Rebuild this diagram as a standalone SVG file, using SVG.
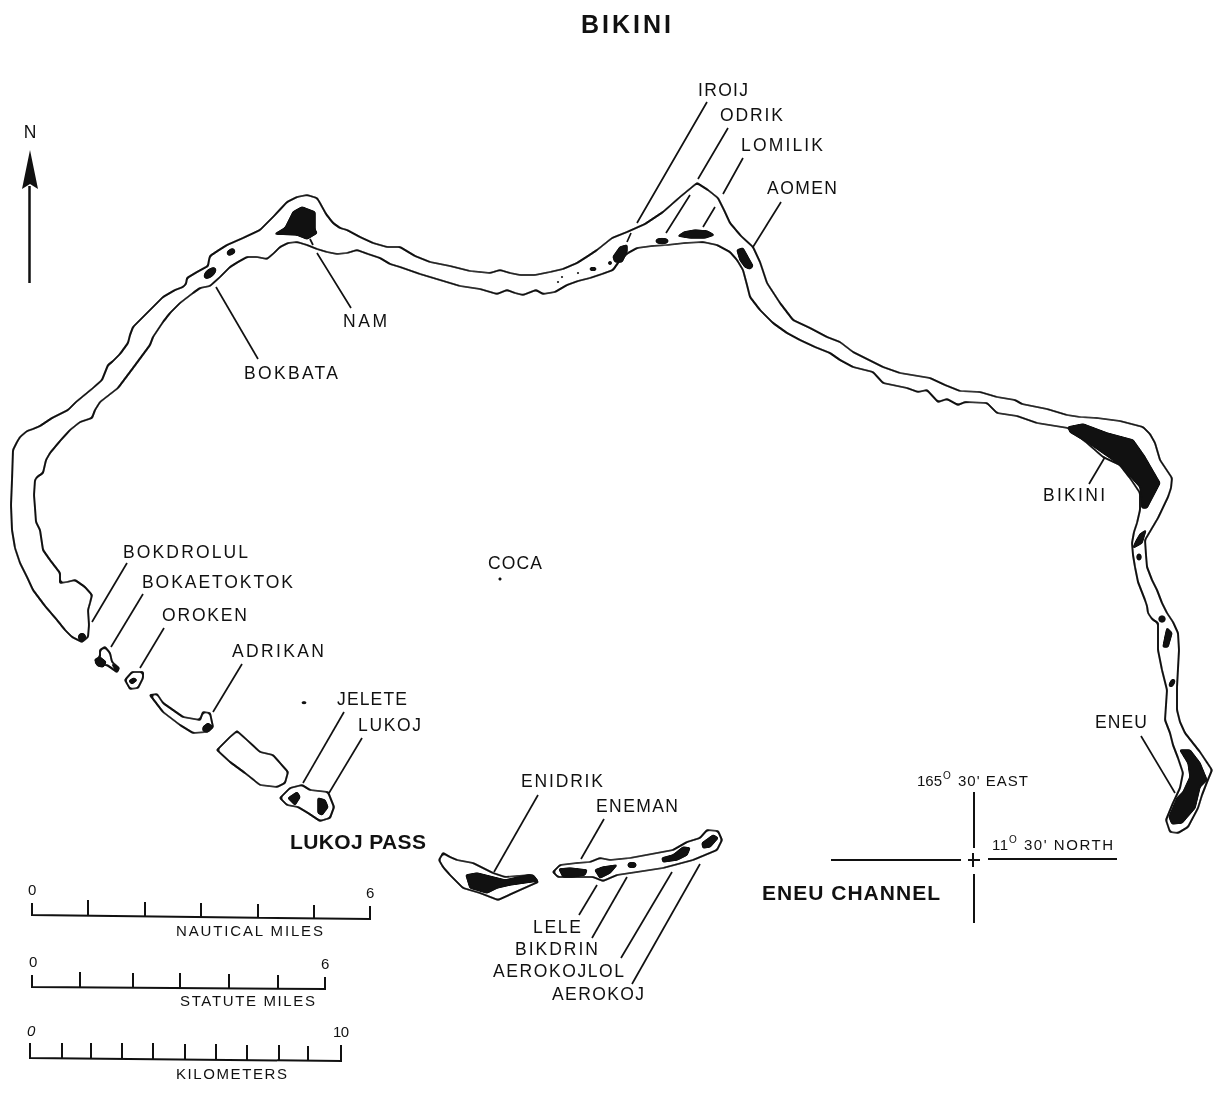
<svg xmlns="http://www.w3.org/2000/svg" width="1213" height="1094" viewBox="0 0 1213 1094">
<style>
text{font-family:"Liberation Sans",Arial,sans-serif;fill:#111}
.l{font-size:17.5px}
.s{font-size:15px}
.u{font-size:10px}
.b{font-size:21px;font-weight:bold}
.o{fill:none;stroke:#111;stroke-width:2.2;stroke-linejoin:round;stroke-linecap:round}
.k{fill:#111;stroke:#111;stroke-width:1.5;stroke-linejoin:round}
.t{fill:none;stroke:#111;stroke-width:1.7}
.a{fill:none;stroke:#111;stroke-width:2}
</style>
<defs>
<filter id="ink" x="-5%" y="-5%" width="110%" height="110%" color-interpolation-filters="sRGB">
<feGaussianBlur stdDeviation="1"/>
<feComponentTransfer><feFuncA type="linear" slope="4" intercept="-1.5"/></feComponentTransfer>
</filter>
</defs>
<rect width="1213" height="1094" fill="#fff"/>
<g id="reef" filter="url(#ink)">
<path class="o" d="M82 642L72 637L65 630L57 620L45 606L33 590L27 577L20 563L15 548L12 530L11 505L12 480L13 450L17 442L20 437L27 431L33 429L40 426L52 418L68 410L76 402L93 388L102 380L108 365L112 362L120 354L128 343L130 335L133 327L146 314L155 305L163 297L175 290L183 287L186 284L187 278L197 272L208 266L209 260L210 256L219 250L227 245L243 238L260 230L274 216L287 202L297 197L307 195L317 198L320 203L326 214L333 223L340 228L347 230L360 237L373 243L387 247L400 247L415 256L430 262L450 266L470 271L480 272L490 273L500 270L510 273L520 275L535 275L550 272L563 269L577 263L588 256L597 250L612 238L627 232L645 224L663 212L680 197L697 183L708 190L718 198L724 210L730 223L741 236L753 247L760 262L767 283L780 303L793 320L810 328L827 337L840 342L853 352L873 362L883 367L900 373L930 378L945 385L960 391L980 392L997 397L1015 400L1022 404L1047 409L1067 415L1080 417L1097 418L1120 421L1143 427L1150 434L1155 443L1160 460L1172 478L1171 488L1168 497L1158 518L1145 540L1146 555L1147 567L1152 580L1157 590L1162 603L1167 613L1173 622L1178 633L1179 650L1177 687L1177 710L1180 722L1185 733L1200 752L1212 770L1207 782L1202 795L1198 808L1188 827L1178 833L1170 832L1166 820L1173 803L1180 788L1183 773L1178 758L1173 745L1170 733L1165 720L1166 705L1167 690L1162 670L1158 650L1158 635L1158 623L1152 619L1148 613L1147 606L1145 600L1138 582L1135 567L1133 555L1132 543L1134 532L1137 523L1140 510L1140 493L1130 478L1120 465L1103 457L1087 443L1068 428L1037 423L1017 416L997 413L987 403L965 402L958 405L947 399L938 402L927 390L918 392L907 388L883 383L873 372L853 367L840 360L830 353L815 347L800 340L787 333L773 323L760 310L750 297L747 285L743 270L737 260L730 252L717 245L703 242L685 243L667 245L652 246L637 248L628 253L620 260L613 270L602 274L590 278L578 281L567 285L555 292L543 294L536 290L523 295L515 293L507 290L497 294L480 289L460 286L440 280L420 274L400 267L390 264L380 258L368 254L357 250L347 253L337 254L327 252L317 249L307 245L297 242L288 243L280 247L274 253L267 259L257 257L247 257L238 262L230 267L220 277L210 286L200 288L193 293L180 303L170 313L163 322L153 337L150 345L133 368L118 388L100 402L95 410L92 418L80 422L70 430L60 441L50 453L46 460L43 473L37 477L35 480L34 495L35 508L36 522L40 530L43 550L50 560L60 573L60 583L67 582L75 580L85 587L92 595L90 603L88 610L89 625L88 637Z"/>
</g>
<g id="islands" filter="url(#ink)">
<path class="o" d="M100 650L105 647L110 653L112 662L119 668L117 672L107 665L98 665L95 660L100 657Z"/>
<path class="o" d="M125 680L132 672L143 672L143 678L138 688L130 689Z"/>
<path class="o" d="M150 695L157 694L163 703L183 717L200 720L203 712L210 713L213 727L207 732L193 733L180 725L163 712Z"/>
<path class="o" d="M217 750L230 737L237 731L247 740L260 752L273 755L288 772L285 783L277 787L260 785L245 773L230 762Z"/>
<path class="o" d="M280 798L290 788L302 785L310 790L328 792L334 807L330 818L320 821L308 813L298 807L287 805Z"/>
<path class="o" d="M439 860L443 853L450 857L457 860L473 863L493 873L505 877L530 875L538 882L520 890L498 900L480 893L463 888L450 875L443 867Z"/>
<path class="o" d="M553 872L560 865L577 863L590 862L600 858L610 860L630 858L657 853L673 850L687 842L700 838L707 830L718 831L722 840L717 850L693 860L663 868L637 872L617 875L603 881L593 877L573 877L558 877Z"/>
</g>
<g id="land" filter="url(#ink)">
<path class="k" d="M275 234L285 228L293 212L302 207L315 212L315 230L317 233L307 239L297 235Z"/>
<ellipse class="k" cx="231" cy="252" rx="4" ry="2.500" transform="rotate(-30 231 252)"/>
<ellipse class="k" cx="210" cy="273" rx="7" ry="3.500" transform="rotate(-40 210 273)"/>
<path class="k" d="M613 257L620 247L627 245L627 252L622 262L615 262Z"/>
<ellipse class="k" cx="662" cy="241" rx="6" ry="2.500"/>
<path class="k" d="M678 236L684 232L695 230L707 231L714 235L705 238L690 238Z"/>
<path class="k" d="M737 250L743 248L753 266L750 269L745 267L740 260Z"/>
<ellipse class="k" cx="593" cy="269" rx="3" ry="1.500"/>
<circle class="k" cx="610" cy="263" r="1.500"/>
<circle class="k" cx="578" cy="273" r="1"/>
<circle class="k" cx="562" cy="277" r="1"/>
<circle class="k" cx="558" cy="282" r="1"/>
<path class="k" d="M1068 427L1083 424L1107 433L1133 440L1145 457L1160 483L1147 508L1142 508L1140 487L1120 465L1087 442L1070 432Z"/>
<path class="k" d="M1146 530L1142 543L1133 548L1136 541L1140 534Z"/>
<ellipse class="k" cx="1139" cy="557" rx="2" ry="3"/>
<circle class="k" cx="1162" cy="619" r="3"/>
<path class="k" d="M1167 628L1172 633L1168 647L1163 647L1165 637Z"/>
<ellipse class="k" cx="1172" cy="683" rx="2" ry="4" transform="rotate(30 1172 683)"/>
<path class="k" d="M1180 750L1190 750L1200 763L1207 780L1200 787L1195 808L1182 823L1172 824L1169 817L1177 798L1183 792L1190 777L1188 763Z"/>
<circle class="k" cx="82" cy="637" r="3.500"/>
<path class="k" d="M95 662L100 657L106 662L103 667L98 666Z"/>
<path class="k" d="M112 664L119 668L117 672Z"/>
<path class="k" d="M129 681L134 678L137 680L132 684Z"/>
<path class="k" d="M203 727L208 723L213 727L208 732L203 731Z"/>
<path class="k" d="M288 798L297 792L300 797L295 805Z"/>
<path class="k" d="M318 798L325 800L328 807L322 815L318 813Z"/>
<path class="k" d="M466 875L477 873L493 877L505 880L528 875L533 875L538 881L510 885L497 888L487 893L470 888Z"/>
<path class="k" d="M559 869L570 868L587 870L585 875L573 877L563 877Z"/>
<path class="k" d="M595 870L603 867L617 865L610 873L600 878Z"/>
<ellipse class="k" cx="632" cy="865" rx="4" ry="2.500"/>
<path class="k" d="M662 858L673 855L683 847L690 848L687 855L677 860L663 862Z"/>
<path class="k" d="M702 843L713 835L718 838L710 847L703 848Z"/>
<rect class="k" x="302" y="702" width="4" height="1.500"/>
<circle class="k" cx="500" cy="579" r="1.200"/>
</g>
<g id="connectors" class="t">
<path d="M707 102L637 223M631 233L627 242"/>
<path d="M728 128L698 179M690 195L666 233"/>
<path d="M743 158L723 194M715 207L703 227"/>
<path d="M781 202L753 247"/>
<path d="M351 308L317 253M313 245L310 239"/>
<path d="M258 359L216 287"/>
<path d="M127 563L92 622"/>
<path d="M143 594L111 647"/>
<path d="M164 628L140 668"/>
<path d="M242 664L213 712"/>
<path d="M344 712L303 783"/>
<path d="M362 738L329 793"/>
<path d="M538 795L494 872"/>
<path d="M604 819L581 859"/>
<path d="M597 885L579 915"/>
<path d="M627 877L592 938"/>
<path d="M672 872L621 958"/>
<path d="M700 864L632 984"/>
<path d="M1105 457L1089 484"/>
<path d="M1141 736L1175 793"/>
</g>
<g id="north-arrow">
<path d="M29.500 186V283" fill="none" stroke="#111" stroke-width="2.500"/>
<path d="M30 150L38 189L30 184L22 189Z" fill="#111"/>
<text class="l" x="30" y="138" text-anchor="middle">N</text>
</g>
<g id="graticule" class="a">
<path d="M974 792V848M974 874V923M831 860H961M988 859H1117M968 860H980M973 853V867"/>
</g>
<g id="scale-nautical" class="a">
<path d="M32 903V915L370 919V906M88 900V915M145 902V916M201 903V917M258 904V917M314 905V918"/>
</g>
<g id="scale-statute" class="a">
<path d="M32 975V987L325 989V977M80 972V987M133 973V988M180 973V988M229 974V988M278 975V989"/>
</g>
<g id="scale-km" class="a">
<path d="M30 1043V1058L341 1061V1045M62 1043V1058M91 1043V1058M122 1043V1059M153 1043V1059M185 1044V1060M216 1044V1060M247 1045V1060M279 1045V1060M308 1046V1061"/>
</g>
<g id="labels">
<text x="581" y="33" font-size="25" font-weight="bold" textLength="90">BIKINI</text>
<text class="l" x="698" y="96" textLength="50">IROIJ</text>
<text class="l" x="720" y="121" textLength="63">ODRIK</text>
<text class="l" x="741" y="151" textLength="82">LOMILIK</text>
<text class="l" x="767" y="194" textLength="70">AOMEN</text>
<text class="l" x="343" y="327" textLength="44">NAM</text>
<text class="l" x="244" y="379" textLength="94">BOKBATA</text>
<text class="l" x="123" y="558" textLength="125">BOKDROLUL</text>
<text class="l" x="142" y="588" textLength="151">BOKAETOKTOK</text>
<text class="l" x="162" y="621" textLength="85">OROKEN</text>
<text class="l" x="232" y="657" textLength="92">ADRIKAN</text>
<text class="l" x="337" y="705" textLength="70">JELETE</text>
<text class="l" x="358" y="731" textLength="63">LUKOJ</text>
<text class="b" x="290" y="849" textLength="136">LUKOJ PASS</text>
<text class="l" x="521" y="787" textLength="82">ENIDRIK</text>
<text class="l" x="596" y="812" textLength="82">ENEMAN</text>
<text class="l" x="533" y="933" textLength="48">LELE</text>
<text class="l" x="515" y="955" textLength="83">BIKDRIN</text>
<text class="l" x="493" y="977" textLength="131">AEROKOJLOL</text>
<text class="l" x="552" y="1000" textLength="92">AEROKOJ</text>
<text class="l" x="488" y="569" textLength="54">COCA</text>
<text class="l" x="1043" y="501" textLength="62">BIKINI</text>
<text class="l" x="1095" y="728" textLength="52">ENEU</text>
<text class="b" x="762" y="900" textLength="178">ENEU CHANNEL</text>
<text class="s" x="917" y="786" textLength="25">165</text>
<text class="u" x="943" y="779">O</text>
<text class="s" x="958" y="786" textLength="70">30' EAST</text>
<text class="s" x="992" y="850" textLength="16">11</text>
<text class="u" x="1009" y="843">O</text>
<text class="s" x="1024" y="850" textLength="89">30' NORTH</text>
<text class="s" x="28" y="895">0</text>
<text class="s" x="366" y="898">6</text>
<text class="s" x="176" y="936" textLength="147">NAUTICAL MILES</text>
<text class="s" x="29" y="967">0</text>
<text class="s" x="321" y="969">6</text>
<text class="s" x="180" y="1006" textLength="135">STATUTE MILES</text>
<text class="s" x="27" y="1036" font-style="italic">0</text>
<text class="s" x="333" y="1037" textLength="16">10</text>
<text class="s" x="176" y="1079" textLength="111">KILOMETERS</text>
</g>
</svg>
